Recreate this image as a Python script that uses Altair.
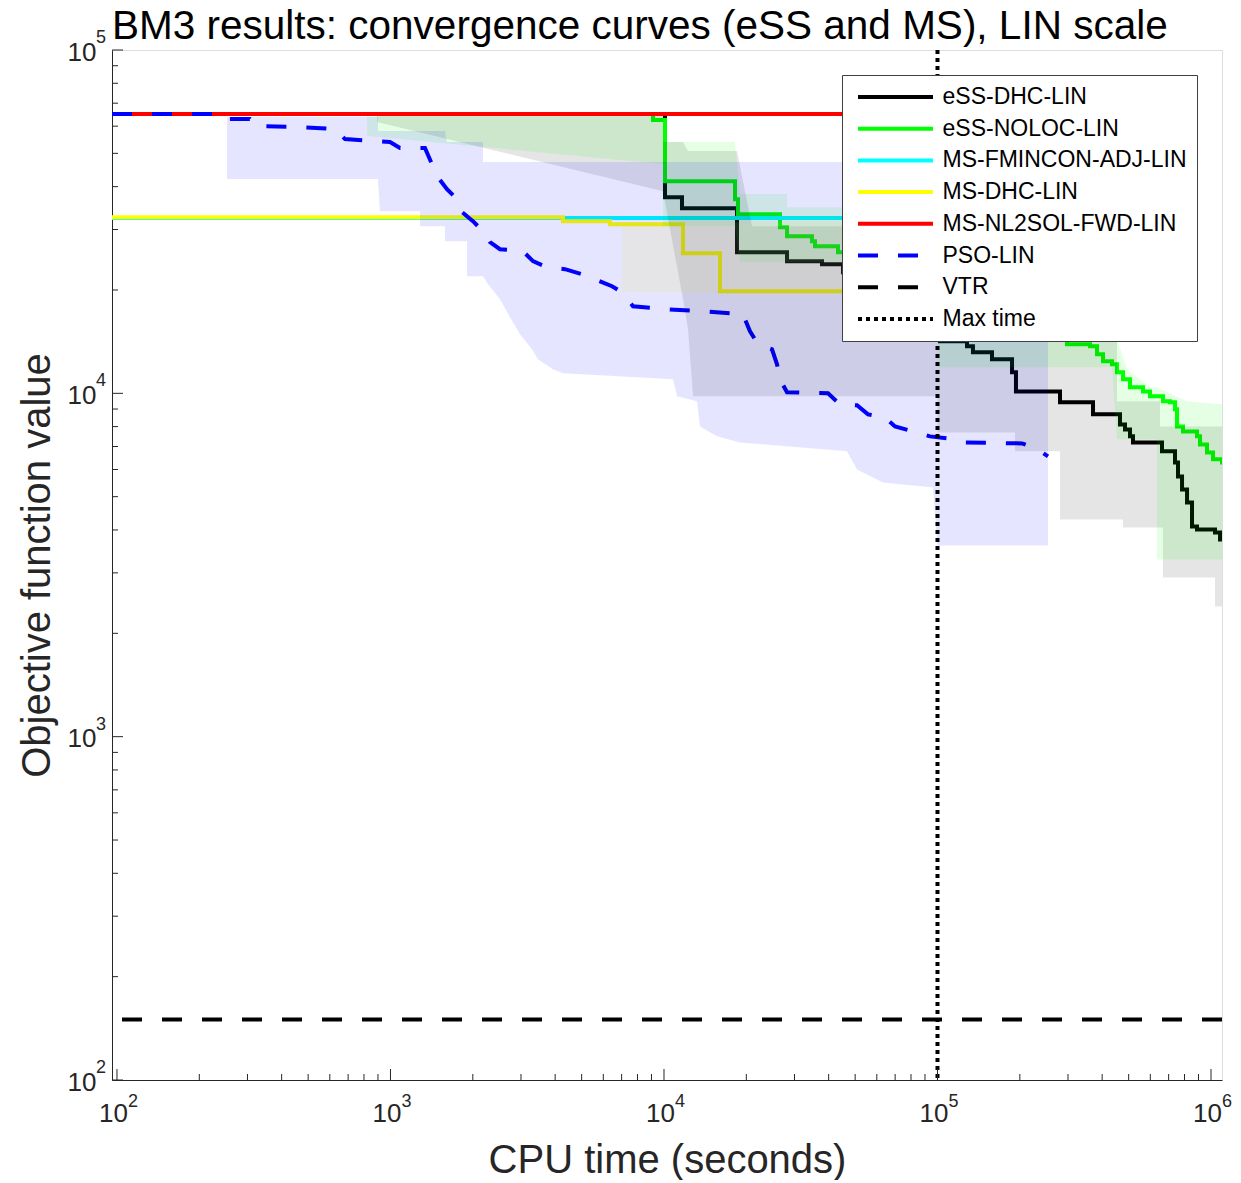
import altair as alt
import pandas as pd

FONT = "Liberation Sans"
AX = "#262626"

# ---------------- convergence curves (CPU time [s], objective value) ----------------
ess_dhc_t = [820, 10085, 11636, 18490, 28170, 37820, 45130, 56650, 72940, 90030, 102100,
             128200, 134800, 158200, 187300, 193600, 280500, 370400, 464800, 484900, 505600,
             518500, 662000, 738600, 757400, 783600, 817300, 852300, 888800, 1034000, 1079000, 1097000]
ess_dhc_v = [65100, 37270, 34620, 25770, 24260, 23780, 22530, 20790, 18800, 16430, 14180,
             13710, 13170, 12560, 11510, 10130, 9414, 8685, 8120, 7852, 7493,
             7196, 6776, 6293, 5728, 5250, 4811, 4095, 4013, 3933, 3752, 3700]

ess_noloc_t = [820, 9117, 10085, 18180, 18650, 26560, 28170, 34760, 35650, 43270, 56650, 76060,
               111100, 169300, 217900, 275800, 297500, 361000, 383100, 402900, 434500, 453200,
               476800, 505600, 564200, 598400, 667500, 708200, 738600, 751200, 790000, 888800,
               911600, 967000, 1017000, 1097000]
ess_noloc_v = [65100, 62510, 41500, 36780, 33250, 30480, 28690, 27740, 26830, 25770, 24920, 22990,
               20100, 17570, 15890, 14370, 13900, 13710, 12990, 12400, 12150, 11510,
               10990, 10410, 10130, 9800, 9477, 9414, 8982, 8012, 7748, 7493,
               7101, 6730, 6422, 6209]

ms_fmincon_t = [95.9, 150000]
ms_fmincon_v = [32400, 32400]

ms_dhc_t = [95.9, 4273, 6346, 11738, 16029, 150000]
ms_dhc_v = [32600, 31730, 31090, 25590, 19830, 19830]

ms_nl2sol_t = [95.9, 150000]
ms_nl2sol_v = [65100, 65100]

pso_t = [95.9, 228, 238, 306, 320, 467, 627, 682, 996, 1083, 1337, 1418, 1479, 1609, 1721, 1826,
         2002, 2179, 2311, 2514, 3051, 3319, 3735, 4345, 5015, 5594, 6454, 7022, 7703, 10343,
         14126, 19448, 20630, 22070, 24830, 25900, 26560, 28170, 39780, 44000, 50780, 55700,
         64270, 69930, 93880, 108300, 122900, 203700, 229200, 253500]
pso_v = [65100, 65100, 62930, 62930, 60020, 59620, 58830, 55030, 53930, 51810, 51810, 46520,
         42920, 39340, 37270, 33700, 31730, 29670, 27560, 26290, 25940, 24260, 23300, 22990,
         22230, 21500, 20510, 19700, 17930, 17570, 17340, 16990, 15160, 13900, 13440, 12150,
         10990, 10070, 10000, 9290, 9230, 8685, 8510, 8012, 7493, 7393, 7196, 7148, 6913, 6552]

vtr_value = 150
max_time = 100000

# ---------------- spread bands (upper / lower envelopes) ----------------
pso_band_t = [252.5, 900, 900, 915, 1282, 1282, 1582, 1582, 1609, 1904, 1904, 2179, 2179, 2273,
              2514, 2735, 2975, 3291, 3461, 3928, 4273, 10790, 11160, 13200, 13540, 15620, 18960,
              46680, 50780, 63180, 96270, 100000, 253500]
pso_band_hi = [63770, 63770, 58040, 58040, 58040, 58040, 58040, 58040, 53930, 53930, 53930, 53930,
               47150, 47150, 47150, 47150, 47150, 47150, 47150, 47150, 47150, 47150, 47150, 47150,
               47150, 47150, 47150, 47150, 47150, 47150, 47150, 47150, 47150]
pso_band_lo = [42070, 42070, 42070, 33930, 33930, 30680, 30680, 27740, 27740, 27740, 21940, 21940,
               21940, 20790, 18800, 16660, 14860, 13440, 12560, 11750, 11440, 10990, 9801, 9477,
               8012, 7493, 7196, 6776, 6003, 5501, 5319, 3606, 3606]

ess_dhc_band_t = [892.5, 9915, 9915, 11740, 12240, 12770, 18490, 20980, 100000, 100000, 192100,
                  192100, 253500, 280500, 280500, 453200, 453200, 476800, 476800, 651000, 651000,
                  667500, 667500, 1034000, 1034000, 1097000]
ess_dhc_band_hi = [64200, 64200, 53930, 53930, 50760, 50760, 50760, 30680, 30680, 30680, 30680,
                   30680, 18800, 18800, 18800, 18800, 9477, 9477, 9477, 9477, 8012, 8012, 8012,
                   8012, 8012, 8012]
ess_dhc_band_lo = [61670, 38810, 38810, 18800, 15370, 9801, 9801, 9801, 9801, 7696, 7696, 6776,
                   6776, 6776, 4293, 4293, 4293, 4293, 4067, 4067, 4067, 4067, 2908, 2908, 2393, 2393]

ess_noloc_band_t = [820.6, 9915, 9915, 18180, 18960, 28170, 28170, 46290, 100000, 100000, 434500,
                    453200, 493200, 550200, 598400, 634700, 634700, 817300, 1097000]
ess_noloc_band_hi = [64200, 64200, 53930, 53930, 38040, 38040, 34850, 34850, 18800, 18800, 14370,
                     14370, 11750, 10990, 10410, 10410, 10410, 9477, 9290]
ess_noloc_band_lo = [56150, 46520, 30680, 30680, 24100, 24100, 24100, 24100, 14860, 11910, 11910,
                     7344, 7344, 7344, 7344, 7344, 3281, 3281, 3281]

ms_dhc_band_t = [7022, 150000]
ms_dhc_band_hi = [31510, 31510]
ms_dhc_band_lo = [19700, 19700]

# ---------------- legend / styles / ticks ----------------
series_names = ["eSS-DHC-LIN", "eSS-NOLOC-LIN", "MS-FMINCON-ADJ-LIN", "MS-DHC-LIN",
                "MS-NL2SOL-FWD-LIN", "PSO-LIN", "VTR", "Max time"]
series_colors = ["#000000", "#00ff00", "#00ffff", "#ffff00", "#ff0000", "#0000ff", "#000000", "#000000"]
series_dash = [[1, 0], [1, 0], [1, 0], [1, 0], [1, 0], [20, 20], [20, 20], [4, 4]]

x_tick_values = [100, 1000, 10000, 100000, 1000000]
x_tick_exps = ["2", "3", "4", "5", "6"]
y_tick_values = [100, 1000, 10000, 100000]
y_tick_exps = ["2", "3", "4", "5"]
minor_mantissas = [2, 3, 4, 5, 6, 7, 8, 9]
x_minor = [m * d for d in [100, 1000, 10000, 100000] for m in minor_mantissas]
y_minor = [m * d for d in [100, 1000, 10000] for m in minor_mantissas]


def df_line(name, ts, vs):
    return pd.DataFrame({"series": name, "t": ts, "v": vs, "i": list(range(len(ts)))})


step_df = pd.concat([
    df_line("eSS-DHC-LIN", ess_dhc_t, ess_dhc_v),
    df_line("eSS-NOLOC-LIN", ess_noloc_t, ess_noloc_v),
    df_line("MS-FMINCON-ADJ-LIN", ms_fmincon_t, ms_fmincon_v),
    df_line("MS-DHC-LIN", ms_dhc_t, ms_dhc_v),
    df_line("MS-NL2SOL-FWD-LIN", ms_nl2sol_t, ms_nl2sol_v),
], ignore_index=True)
pso_df = df_line("PSO-LIN", pso_t, pso_v)

W, H = 1110, 1030

xscale = alt.Scale(type="log", domain=[95.9, 1.097e6], nice=False)
yscale = alt.Scale(type="log", domain=[100, 100000], nice=False)

xaxis = alt.Axis(values=x_tick_values, labelExpr="'10'",
                 ticks=False, grid=False, domainColor=AX, domainWidth=1,
                 labelFont=FONT, labelFontSize=26, labelColor=AX, labelPadding=20, labelOffset=-4,
                 labelFlush=False, labelOverlap=False,
                 title="CPU time (seconds)", titleFont=FONT, titleFontSize=40,
                 titleFontWeight="normal", titleColor=AX, titlePadding=14)
yaxis = alt.Axis(values=y_tick_values, labelExpr="'10'",
                 ticks=False, grid=False, domainColor=AX, domainWidth=1,
                 labelFont=FONT, labelFontSize=26, labelColor=AX, labelPadding=16, labelOffset=2,
                 labelFlush=False, labelOverlap=False,
                 title="Objective function value", titleFont=FONT, titleFontSize=40,
                 titleFontWeight="normal", titleColor=AX, titlePadding=10)

X = alt.X("t:Q", scale=xscale, axis=xaxis)
Y = alt.Y("v:Q", scale=yscale, axis=yaxis)

# legend entry styling: thin eSS-DHC sample, longer dashes for PSO / VTR samples
thin_cond = {"condition": {"test": "datum.value == 'eSS-DHC-LIN'", "value": 1.5}, "value": 4}
dash_cond = {"condition": [{"test": "datum.value == 'PSO-LIN' || datum.value == 'VTR'", "value": [31, 22]},
                           {"test": "datum.value == 'Max time'", "value": [4, 4]}],
             "value": [1, 0]}
legend_encode_candidates = [
    {"symbols": {"strokeWidth": thin_cond, "strokeDash": dash_cond}},
    {"symbols": {"strokeWidth": thin_cond}},
    None,
]


def build(legend_encode):
    lkw = dict(orient="top-right", offset=25, title=None,
               symbolType="M-3.75,0H3.75", symbolSize=400, symbolOffset=31.5,
               symbolStrokeWidth=4, labelOffset=35, labelFont=FONT, labelFontSize=23,
               labelColor="black", labelLimit=400, padding=10, rowPadding=7.7,
               fillColor="white", strokeColor="#404040")
    if legend_encode is not None:
        lkw["encode"] = legend_encode
    legend = alt.Legend(**lkw)
    COLOR = alt.Color("series:N", scale=alt.Scale(domain=series_names, range=series_colors),
                      legend=legend, title=None)
    DASH = alt.StrokeDash("series:N", scale=alt.Scale(domain=series_names, range=series_dash),
                          legend=legend, title=None)

    step_lines = alt.Chart(step_df).mark_line(interpolate="step-after", strokeWidth=4, clip=True).encode(
        x=X, y=Y, color=COLOR, strokeDash=DASH, order="i:Q")
    pso_line = alt.Chart(pso_df).mark_line(strokeWidth=4, clip=True).encode(
        x=X, y=Y, color=COLOR, strokeDash=DASH, order="i:Q")

    def band(ts, hi, lo, color):
        d = pd.DataFrame({"t": ts, "v": hi, "v2": lo})
        return alt.Chart(d).mark_area(fill=color, fillOpacity=0.1, strokeWidth=0,
                                      orient="vertical", clip=True).encode(
            x=X, y=Y, y2=alt.Y2("v2:Q"))

    bands = [
        band(ess_dhc_band_t, ess_dhc_band_hi, ess_dhc_band_lo, "#000000"),
        band(ess_noloc_band_t, ess_noloc_band_hi, ess_noloc_band_lo, "#00ff00"),
        band(ms_dhc_band_t, ms_dhc_band_hi, ms_dhc_band_lo, "#ffff00"),
        band(pso_band_t, pso_band_hi, pso_band_lo, "#0000ff"),
    ]

    vtr = alt.Chart(pd.DataFrame({"series": ["VTR"], "v": [vtr_value]})).mark_rule(strokeWidth=4).encode(
        y=Y, color=COLOR, strokeDash=DASH)
    maxt = alt.Chart(pd.DataFrame({"series": ["Max time"], "t": [max_time]})).mark_rule(strokeWidth=4).encode(
        x=X, color=COLOR, strokeDash=DASH)

    # inward-pointing ticks (MATLAB style)
    xt_major = alt.Chart(pd.DataFrame({"t": x_tick_values})).mark_rule(color=AX, strokeWidth=1).encode(
        x=X, y=alt.value(H), y2=alt.value(H - 11))
    xt_minor = alt.Chart(pd.DataFrame({"t": x_minor})).mark_rule(color=AX, strokeWidth=1).encode(
        x=X, y=alt.value(H), y2=alt.value(H - 6))
    yt_major = alt.Chart(pd.DataFrame({"v": y_tick_values})).mark_rule(color=AX, strokeWidth=1).encode(
        y=Y, x=alt.value(0), x2=alt.value(11))
    yt_minor = alt.Chart(pd.DataFrame({"v": y_minor})).mark_rule(color=AX, strokeWidth=1).encode(
        y=Y, x=alt.value(0), x2=alt.value(6))

    # exponents of the 10^n tick labels
    x_exp = alt.Chart(pd.DataFrame({"t": x_tick_values, "e": x_tick_exps})).mark_text(
        align="left", baseline="alphabetic", font=FONT, fontSize=18, color=AX, dx=11).encode(
        x=X, y=alt.value(H + 27), text="e:N")
    y_exp = alt.Chart(pd.DataFrame({"v": y_tick_values, "e": y_tick_exps})).mark_text(
        align="left", baseline="alphabetic", font=FONT, fontSize=18, color=AX, dx=-16, dy=-7).encode(
        y=Y, x=alt.value(0), text="e:N")

    return alt.layer(
        step_lines, pso_line, *bands, vtr, maxt, xt_major, xt_minor, yt_major, yt_minor, x_exp, y_exp
    ).properties(
        width=W, height=H,
        title=alt.Title("BM3 results: convergence curves (eSS and MS), LIN scale", font=FONT,
                        fontSize=40.5, fontWeight="normal", color="black", anchor="start",
                        frame="group", offset=4, dy=22),
        padding={"left": 104, "top": 42, "right": 10, "bottom": 100},
        autosize=alt.AutoSizeParams(type="none"),
    ).configure_view(stroke=None).configure(font=FONT)


chart = None
for cand in legend_encode_candidates:
    try:
        c = build(cand)
        c.to_dict()
        chart = c
        break
    except Exception:
        continue

chart.save("out.html", embed_options={"renderer": "svg", "actions": False})
